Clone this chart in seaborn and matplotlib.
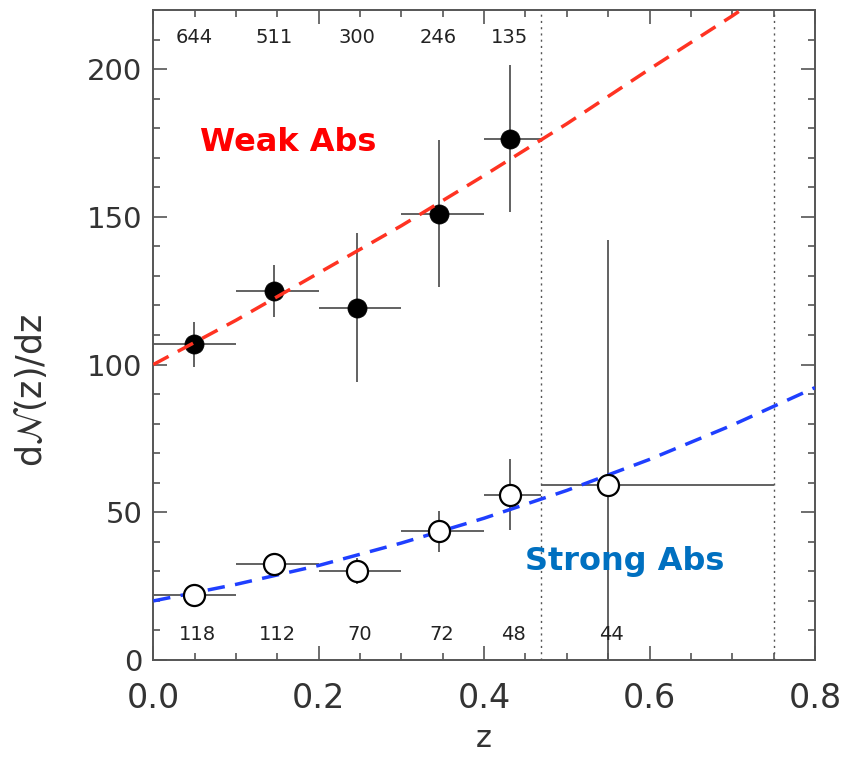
import numpy as np
import pandas as pd
import matplotlib
matplotlib.use("Agg")
import matplotlib.pyplot as plt
import seaborn as sns
from matplotlib.ticker import MultipleLocator

# ---------------- data ----------------
z_points = [0.049, 0.146, 0.246, 0.345, 0.431, 0.55]
bin_lo = [0.0, 0.1, 0.2, 0.3, 0.4, 0.469]
bin_hi = [0.1, 0.2, 0.3, 0.4, 0.469, 0.75]

weak_dndz = [106.8, 124.9, 119.3, 151.1, 176.5]
weak_err = [7.7, 8.9, 25.1, 24.8, 25.0]
weak_counts = ["644", "511", "300", "246", "135"]

strong_dndz = [22.1, 32.6, 30.3, 43.6, 55.9, 59.3]
strong_err = [1.5, 3.0, 4.4, 7.0, 12.0, 82.8]
strong_counts = ["118", "112", "70", "72", "48", "44"]

curve_z = [0.0, 0.1, 0.2, 0.3, 0.4, 0.5, 0.6, 0.7, 0.8]
weak_curve = [100.0, 115.0, 131.0, 147.0, 164.0, 181.5, 200.0, 218.0, 237.0]
strong_curve = [20.0, 25.6, 32.0, 39.6, 48.0, 57.4, 67.9, 79.5, 92.2]

divider_z = [0.469, 0.75]

# ---------------- style ----------------
sns.set_style("ticks")
plt.rcParams['font.family'] = ['DejaVu Sans']
plt.rcParams['mathtext.fontset'] = 'stix'

fig = plt.figure(figsize=(8.44, 7.59), dpi=100)
ax = fig.add_axes([0.1816, 0.1304, 0.9656 - 0.1816, 0.9868 - 0.1304])

grey = "#555555"

n_w = len(weak_dndz)
xerr_w = [np.array(z_points[:n_w]) - np.array(bin_lo[:n_w]),
          np.array(bin_hi[:n_w]) - np.array(z_points[:n_w])]
xerr_s = [np.array(z_points) - np.array(bin_lo),
          np.array(bin_hi) - np.array(z_points)]

# divider lines
for zd in divider_z:
    ax.axvline(zd, color=grey, lw=1.0, ls=(0, (1.5, 3)), zorder=1)

# error bars
ax.errorbar(z_points[:n_w], weak_dndz, yerr=weak_err, xerr=xerr_w, fmt='none',
            ecolor=grey, elinewidth=1.3, capsize=0, zorder=2)
ax.errorbar(z_points, strong_dndz, yerr=strong_err, xerr=xerr_s, fmt='none',
            ecolor=grey, elinewidth=1.3, capsize=0, zorder=2)

# strong curve (below open circles)
sns.lineplot(x=curve_z, y=strong_curve, ax=ax, color="#1f3fff", lw=2.5,
             linestyle=(0, (5, 3)), zorder=3)

# points
df_w = pd.DataFrame({"z": z_points[:n_w], "v": weak_dndz})
df_s = pd.DataFrame({"z": z_points, "v": strong_dndz})
sns.scatterplot(data=df_s, x="z", y="v", ax=ax, s=230, color="white",
                edgecolor="black", linewidth=1.6, zorder=4)
sns.scatterplot(data=df_w, x="z", y="v", ax=ax, s=190, color="black",
                edgecolor="black", linewidth=0.5, zorder=4)

# weak curve (above filled circles)
sns.lineplot(x=curve_z, y=weak_curve, ax=ax, color="#ff3322", lw=2.5,
             linestyle=(0, (5, 3)), zorder=5)

# counts
for zc, c in zip(z_points[:n_w], weak_counts):
    ax.text(zc, 210.8, c, ha='center', va='center', fontsize=14, color='#222222')
for zc, c in zip(z_points, strong_counts):
    ax.text(zc + 0.004, 8.8, c, ha='center', va='center', fontsize=14, color='#222222')

ax.text(0.056, 175, "Weak Abs", color="#ff0000", fontsize=23, fontweight='bold',
        ha='left', va='center')
ax.text(0.449, 33.5, "Strong Abs", color="#0070c0", fontsize=23, fontweight='bold',
        ha='left', va='center')

# axes
ax.set_xlim(0, 0.8)
ax.set_ylim(0, 220)
ax.xaxis.set_major_locator(MultipleLocator(0.2))
ax.xaxis.set_minor_locator(MultipleLocator(0.05))
ax.yaxis.set_major_locator(MultipleLocator(50))
ax.yaxis.set_minor_locator(MultipleLocator(10))
ax.xaxis.set_major_formatter(matplotlib.ticker.FormatStrFormatter('%.1f'))

ax.tick_params(which='both', direction='in', top=True, right=True, color=grey, width=1.2)
ax.tick_params(which='major', length=10)
ax.tick_params(which='minor', length=5)
ax.tick_params(axis='x', which='major', labelsize=24, pad=16, labelcolor='#333333')
ax.tick_params(axis='y', which='major', labelsize=21, pad=8, labelcolor='#333333')

for sp in ax.spines.values():
    sp.set_color(grey)
    sp.set_linewidth(1.4)

ax.set_xlabel("z", fontsize=22, color='#333333')
ax.set_ylabel(r"d$\mathcal{N}$(z)/dz", fontsize=25, color='#333333')
ax.xaxis.set_label_coords(0.5, -0.098)
ax.yaxis.set_label_coords(-0.158, 0.415)

fig.savefig("out.png", dpi=100)
